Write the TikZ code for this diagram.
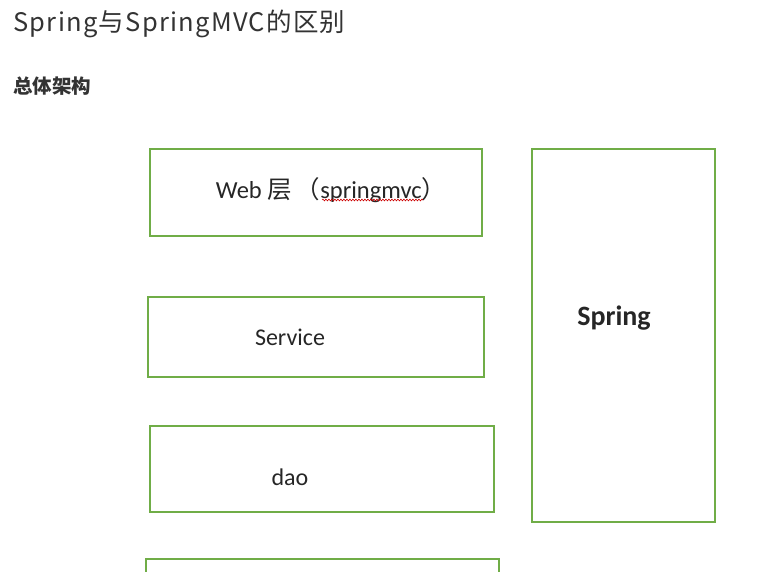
\documentclass[tikz,border=0pt]{standalone}
\usepackage{fontspec}
\setmainfont{Carlito}
\newfontfamily\cjk{Noto Sans CJK SC}
\newfontfamily\cjkhead[LetterSpace=5]{Noto Sans CJK SC}
\usetikzlibrary{positioning,decorations.pathmorphing}
\definecolor{boxgreen}{HTML}{70AD47}
\definecolor{headgray}{HTML}{333333}
\begin{document}
\begin{tikzpicture}[x=1pt,y=-1pt,
thick,layer/.style = {rectangle,draw=boxgreen,line width=2.4pt, inner sep = 0pt},
boxtext/.style = {inner sep = 0pt, text=black!85, font=\fontsize{24}{28}\selectfont},
squiggle/.style = {red!80!black, line width=0.6pt, decorate,
  decoration={snake, amplitude=0.9pt, segment length=3pt}}]
\useasboundingbox (0,0) rectangle (772,572);

\node[anchor=west, inner sep=0pt, text=headgray, font=\cjkhead\fontsize{25.5}{29}\selectfont] (title) at (13,24) {Spring与SpringMVC的区别};
\node[anchor=west, inner sep=0pt, text=headgray, font=\cjk\bfseries\fontsize{19.5}{23}\selectfont] (sub) at (13,86) {总体架构};

\node[layer, minimum width=332pt, minimum height=87pt] (web) at (316,192.5) {};
\node[layer, minimum width=336pt, minimum height=80pt] (service) at (316,337) {};
\node[layer, minimum width=344pt, minimum height=86pt] (dao) at (322,469) {};
\node[layer, minimum width=353pt, minimum height=80pt] (db) at (322.5,599) {};
\node[layer, minimum width=183pt, minimum height=373pt] (spring) at (623.5,335.5) {};

\node[boxtext, font=\fontsize{24.5}{28}\selectfont] (webtext) at (331,190) {Web {\cjk 层}\hspace{4pt}{\cjk （}springmvc{\cjk ）}};
\node[boxtext] (servicetext) at (290,337) {Service};
\node[boxtext] (daotext) at (290,477) {dao};
\node[boxtext, font=\bfseries\fontsize{28}{32}\selectfont] (springtext) at (614,318) {Spring};

\draw[squiggle] (322,200) -- (423,200);
\end{tikzpicture}
\end{document}
